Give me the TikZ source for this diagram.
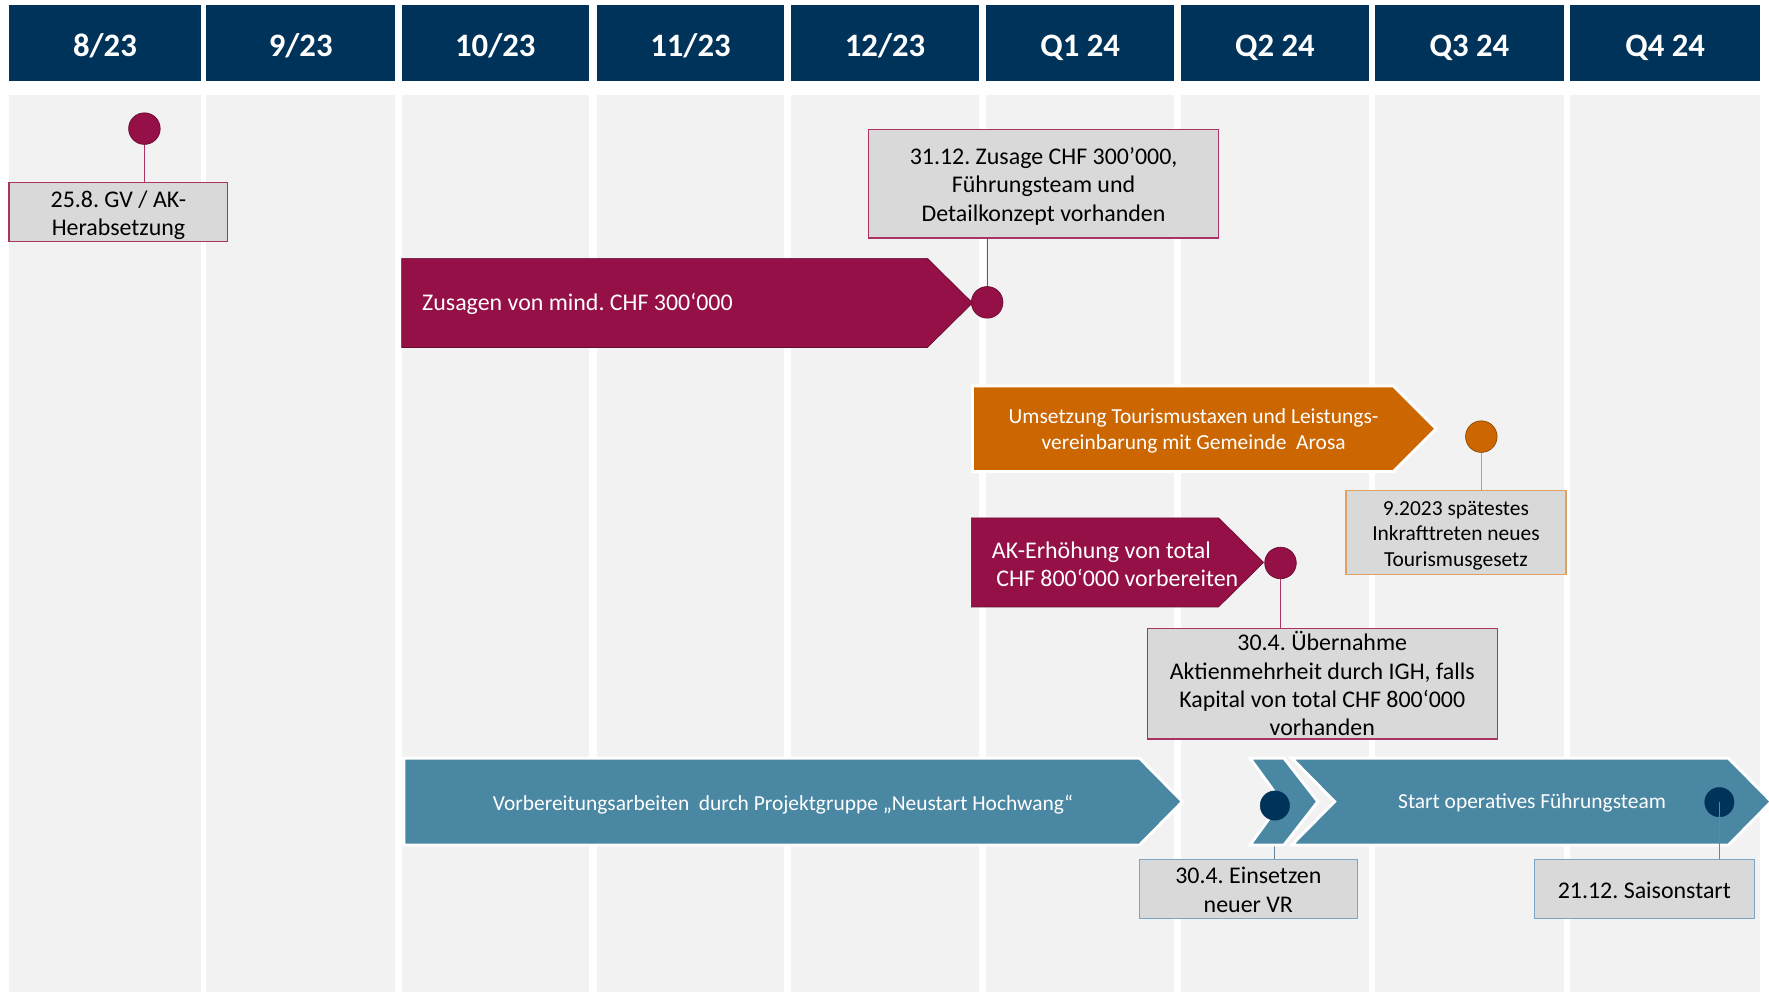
\documentclass[tikz,border=0pt]{standalone}
\usepackage{fontspec}
\setmainfont{Carlito}
\frenchspacing
\newcommand\mytopstrut{\rule{0pt}{21pt}}
\newcommand\mybotstrut{\rule[-5pt]{0pt}{5pt}}
\newcommand\mytopstrutS{\rule{0pt}{19pt}}
\newcommand\mybotstrutS{\rule[-4pt]{0pt}{4pt}}
\definecolor{navy}{RGB}{0,51,89}
\definecolor{maroon}{RGB}{149,16,70}
\definecolor{orng}{RGB}{204,102,0}
\definecolor{tealb}{RGB}{74,135,163}
\definecolor{colbg}{RGB}{242,242,242}
\definecolor{boxbg}{RGB}{217,217,217}
\definecolor{mborder}{RGB}{170,50,100}
\definecolor{oborder}{RGB}{225,160,100}
\definecolor{bborder}{RGB}{125,165,195}
\tikzset{
  hdr/.style={fill=navy, text=white, font=\fontsize{29}{34}\selectfont\bfseries, minimum height=68pt, inner sep=0pt, text height=24pt, text depth=0pt},
  colbox/.style={fill=colbg},
  bigtxt/.style={font=\fontsize{21.2}{25}\selectfont},
  smalltxt/.style={font=\fontsize{19}{22.5}\selectfont},
  infobox/.style={fill=boxbg, draw=#1, line width=1pt, align=center, inner sep=0pt, text=black},
  dot/.style={circle, fill=#1, draw=#1!70!black, line width=0.6pt, minimum size=28pt, inner sep=0pt},
  ndot/.style={circle, fill=navy, draw=navy, minimum size=26pt, inner sep=0pt},
  mline/.style={draw=mborder, line width=1pt},
  oline/.style={draw=oborder!80!orng, line width=1.2pt},
  bline/.style={draw=bborder!80!black, line width=1pt},
  marrow/.style={fill=maroon, draw=maroon!70!black, line width=0.6pt},
  warrow/.style={fill=#1, draw=white, line width=2.5pt},
  arrtxt/.style={text=white, inner sep=0pt},
}
\begin{document}
\begin{tikzpicture}[x=1pt, y=-1pt]
\useasboundingbox (0,0) rectangle (1568,879);
\fill[white] (0,0) rectangle (1568,879);
% columns
\foreach \l/\r in {8/178,183/350,356/522,529/695,701/868,874/1041,1047/1213,1219/1386,1392/1560}{
  \fill[colbox] (\l,84) rectangle (\r,879);
}
% headers
\node[hdr, minimum width=170pt] (h1) at (93,38) {8/23};
\node[hdr, minimum width=167pt] (h2) at (266.5,38) {9/23};
\node[hdr, minimum width=166pt] (h3) at (439,38) {10/23};
\node[hdr, minimum width=166pt] (h4) at (612,38) {11/23};
\node[hdr, minimum width=167pt] (h5) at (784.5,38) {12/23};
\node[hdr, minimum width=167pt] (h6) at (957.5,38) {Q1 24};
\node[hdr, minimum width=166pt] (h7) at (1130,38) {Q2 24};
\node[hdr, minimum width=167pt] (h8) at (1302.5,38) {Q3 24};
\node[hdr, minimum width=168pt] (h9) at (1476,38) {Q4 24};

% boxes
\node[infobox=mborder, bigtxt, minimum width=194pt, minimum height=52pt] (b1) at (105,188) {\mytopstrut 25.8. GV / AK-\\Herabsetzung\mybotstrut};
\node[infobox=mborder, bigtxt, minimum width=310pt, minimum height=96pt] (b2) at (925,163) {\mytopstrut 31.12. Zusage CHF 300’000,\\Führungsteam und\\Detailkonzept vorhanden\mybotstrut};
\node[infobox=oborder, smalltxt, minimum width=195pt, minimum height=74pt] (b3) at (1290.5,472) {\mytopstrutS 9.2023 spätestes\\Inkrafttreten neues\\Tourismusgesetz\mybotstrutS};
\node[infobox=mborder, bigtxt, minimum width=310pt, minimum height=98pt] (b4) at (1172,606) {30.4. Übernahme\\Aktienmehrheit durch IGH, falls\\Kapital von total CHF 800‘000\\vorhanden};
\node[infobox=bborder, bigtxt, minimum width=193pt, minimum height=52pt] (b5) at (1106.5,788) {\mytopstrut 30.4. Einsetzen\\neuer VR\mybotstrut};
\node[infobox=bborder, bigtxt, minimum width=195pt, minimum height=52pt] (b6) at (1457.5,788) {\mytopstrut 21.12. Saisonstart\mybotstrut};

% dot anchors (coordinates)
\coordinate (p1) at (128,114);
\coordinate (p2) at (875,268);
\coordinate (p3) at (1313,387);
\coordinate (p4) at (1135,499);
\coordinate (p5) at (1130,714);
\coordinate (p6) at (1524,711);

% connectors under arrows
\draw[mline] (p1) -- (p1 |- b1.north);
\draw[mline] (p2) -- (p2 |- b2.south);
\draw[oline] (p3) -- (p3 |- b3.north);
\draw[mline] (p4) -- (p4 |- b4.north);
\draw[bline] (p5) -- (p5 |- b5.north);

% arrows
\path[marrow] (356,229) -- (822,229) -- (862,268.5) -- (822,308) -- (356,308) -- cycle;
\node[arrtxt, bigtxt, anchor=west] (t1) at (374,269) {Zusagen von mind. CHF 300‘000};

\path[warrow=orng] (862,342) -- (1235,342) -- (1273,380) -- (1235,418) -- (862,418) -- cycle;
\node[arrtxt, smalltxt, align=center] (t2) at (1058,382) {Umsetzung Tourismustaxen und Leistungs-\\vereinbarung mit Gemeinde\ \ Arosa};

\path[marrow] (861,459) -- (1080,459) -- (1120,498.5) -- (1080,538) -- (861,538) -- cycle;
\node[arrtxt, bigtxt, align=left, anchor=west] (t3) at (879,500) {AK-Erhöhung von total\\\hspace*{4pt}CHF 800‘000 vorbereiten};

\path[warrow=tealb] (358,672) -- (1010,672) -- (1048,710.5) -- (1010,749) -- (358,749) -- cycle;
\node[arrtxt, smalltxt] (t4) at (694,713) {Vorbereitungsarbeiten\ \ durch Projektgruppe „Neustart Hochwang“};

\path[warrow=tealb] (1108,672) -- (1138,672) -- (1168,710.5) -- (1138,749) -- (1108,749) -- (1136,710.5) -- cycle;
\path[warrow=tealb] (1145,672) -- (1532,672) -- (1570,710.5) -- (1532,749) -- (1145,749) -- (1183,710.5) -- cycle;
\node[arrtxt, smalltxt] (t5) at (1358,712) {Start operatives Führungsteam};

% dots
\node[dot=maroon] (d1) at (p1) {};
\node[dot=maroon] (d2) at (p2) {};
\node[dot=orng] (d3) at (p3) {};
\node[dot=maroon] (d4) at (p4) {};
\node[ndot] (d5) at (p5) {};
\node[ndot] (d6) at (p6) {};
\draw[bline] (d6.center) -- (d6.center |- b6.north);
\end{tikzpicture}
\end{document}
